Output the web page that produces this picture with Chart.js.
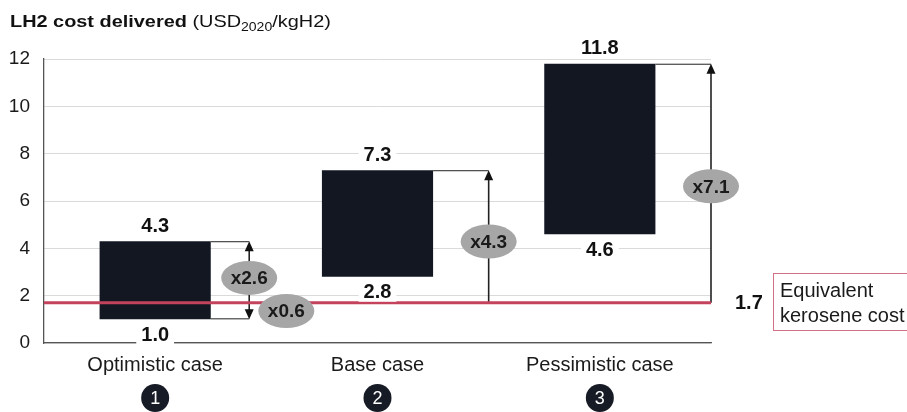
<!DOCTYPE html>
<html>
<head>
<meta charset="utf-8">
<script src="https://cdn.jsdelivr.net/npm/chart.js@4"></script>
<style>
  html, body { margin: 0; padding: 0; background: #fff; }
</style>
</head>
<body>
<canvas id="costChart" width="907" height="412"></canvas>
<script>
// data
const categories = ['Optimistic case', 'Base case', 'Pessimistic case'];
const caseNumbers = ['1', '2', '3'];
const lowCost = [1.0, 2.8, 4.6];
const highCost = [4.3, 7.3, 11.8];
const keroseneCost = 1.7;
const highMultipliers = ['x2.6', 'x4.3', 'x7.1'];
const lowMultiplier = 'x0.6';
const yTicks = [0, 2, 4, 6, 8, 10, 12];

const FONT = 'Arial, "Liberation Sans", sans-serif';
const BAR = '#121722';
const RED = '#c4435c';

function arrowHead(ctx, x, y, dir) {
  ctx.beginPath();
  ctx.moveTo(x, y);
  ctx.lineTo(x - 4.5, y - dir * 10);
  ctx.lineTo(x + 4.5, y - dir * 10);
  ctx.closePath();
  ctx.fill();
}

function bubble(ctx, cx, cy, text) {
  ctx.fillStyle = '#a6a6a6';
  ctx.beginPath();
  ctx.ellipse(cx, cy, 28, 17, 0, 0, Math.PI * 2);
  ctx.fill();
  ctx.fillStyle = '#1a1a1a';
  ctx.font = 'bold 19px ' + FONT;
  ctx.textAlign = 'center';
  ctx.textBaseline = 'middle';
  ctx.fillText(text, cx, cy + 1);
}

function valueLabel(ctx, x, y, text) {
  ctx.font = 'bold 20px ' + FONT;
  const w = ctx.measureText(text).width;
  ctx.fillStyle = '#fff';
  ctx.fillRect(x - w / 2 - 5, y - 10, w + 10, 20);
  ctx.fillStyle = '#111';
  ctx.textAlign = 'center';
  ctx.textBaseline = 'middle';
  ctx.fillText(text, x, y + 1);
}

const overlay = {
  id: 'overlay',
  afterDatasetsDraw(chart) {
    const ctx = chart.ctx;
    const xs = chart.scales.x;
    const ys = chart.scales.y;
    const area = chart.chartArea;
    const meta = chart.getDatasetMeta(0);
    const catW = (area.right - area.left) / categories.length;
    const yK = ys.getPixelForValue(keroseneCost);
    const arrowX = i => i === 0 ? meta.data[i].x + catW * 0.423 : Math.min(meta.data[i].x + catW / 2, area.right);

    ctx.save();

    // connectors and arrows
    ctx.strokeStyle = '#222';
    ctx.fillStyle = '#111';
    ctx.lineWidth = 1.4;
    categories.forEach((c, i) => {
      const bar = meta.data[i];
      const right = bar.x + bar.width / 2;
      const ax = arrowX(i);
      const yTop = ys.getPixelForValue(highCost[i]);
      ctx.lineWidth = 1;
      ctx.beginPath();
      ctx.moveTo(right, yTop + 0.5);
      ctx.lineTo(ax, yTop + 0.5);
      ctx.stroke();
      ctx.lineWidth = 1.6;
      if (i === 0) {
        const yLow = ys.getPixelForValue(lowCost[i]);
        ctx.lineWidth = 1;
        ctx.beginPath();
        ctx.moveTo(right, yLow - 0.5);
        ctx.lineTo(ax, yLow - 0.5);
        ctx.stroke();
        ctx.lineWidth = 1.6;
        ctx.beginPath();
        ctx.moveTo(ax, yTop + 4);
        ctx.lineTo(ax, yLow - 4);
        ctx.stroke();
        arrowHead(ctx, ax, yTop, -1);
        arrowHead(ctx, ax, yLow, 1);
      } else {
        ctx.beginPath();
        ctx.moveTo(ax, yTop + 4);
        ctx.lineTo(ax, yK);
        ctx.stroke();
        arrowHead(ctx, ax, yTop, -1);
      }
    });

    // kerosene reference line
    ctx.strokeStyle = RED;
    ctx.lineWidth = 2.8;
    ctx.beginPath();
    ctx.moveTo(area.left, yK);
    ctx.lineTo(area.right, yK);
    ctx.stroke();

    // multiplier bubbles
    const bubbleAt = [2.75, 4.29, 6.62];
    categories.forEach((c, i) => {
      bubble(ctx, arrowX(i), ys.getPixelForValue(bubbleAt[i]), highMultipliers[i]);
    });
    bubble(ctx, meta.data[0].x + catW * 0.59, ys.getPixelForValue(1.35), lowMultiplier);

    // value labels
    categories.forEach((c, i) => {
      const bar = meta.data[i];
      valueLabel(ctx, bar.x, ys.getPixelForValue(highCost[i]) - 16, highCost[i].toFixed(1));
      valueLabel(ctx, bar.x, ys.getPixelForValue(lowCost[i]) + 15, lowCost[i].toFixed(1));
    });

    // kerosene value and box
    ctx.fillStyle = '#111';
    ctx.font = 'bold 20px ' + FONT;
    ctx.textAlign = 'left';
    ctx.textBaseline = 'middle';
    ctx.fillText(keroseneCost.toFixed(1), 735, yK + 1);
    ctx.strokeStyle = '#d47083';
    ctx.lineWidth = 1;
    ctx.strokeRect(773.5, 273.5, 140, 57);
    ctx.fillStyle = '#1a1a1a';
    ctx.font = '20px ' + FONT;
    ctx.fillText('Equivalent', 780, 291);
    ctx.fillText('kerosene cost', 780, 316);

    // numbered circles
    categories.forEach((c, i) => {
      const cx = xs.getPixelForValue(i);
      ctx.fillStyle = '#161b26';
      ctx.beginPath();
      ctx.arc(cx, 398, 14, 0, Math.PI * 2);
      ctx.fill();
      ctx.fillStyle = '#fff';
      ctx.font = '18px ' + FONT;
      ctx.textAlign = 'center';
      ctx.fillText(caseNumbers[i], cx, 399);
    });

    // title (source text is slightly wide, so stretch it)
    ctx.translate(10, 27);
    ctx.scale(1.17, 1);
    ctx.fillStyle = '#111';
    ctx.textAlign = 'left';
    ctx.textBaseline = 'alphabetic';
    ctx.font = 'bold 17px ' + FONT;
    const t1 = 'LH2 cost delivered ';
    ctx.fillText(t1, 0, 0);
    let x = ctx.measureText(t1).width;
    ctx.font = '17px ' + FONT;
    ctx.fillText('(USD', x, 0);
    x += ctx.measureText('(USD').width;
    ctx.font = '12px ' + FONT;
    ctx.fillText('2020', x, 4);
    x += ctx.measureText('2020').width;
    ctx.font = '17px ' + FONT;
    ctx.fillText('/kgH2)', x, 0);

    ctx.restore();
  }
};

new Chart(document.getElementById('costChart'), {
  type: 'bar',
  data: {
    labels: categories,
    datasets: [{
      data: categories.map((c, i) => [lowCost[i], highCost[i]]),
      backgroundColor: BAR,
      borderWidth: 0,
      categoryPercentage: 1,
      barPercentage: 0.5
    }]
  },
  options: {
    responsive: false,
    animation: false,
    layout: { padding: { left: 0, right: 196, top: 59, bottom: 0 } },
    plugins: { legend: { display: false }, tooltip: { enabled: false } },
    scales: {
      x: {
        grid: { display: false, drawTicks: false },
        border: { color: '#555', width: 1.3 },
        ticks: { color: '#1a1a1a', font: { family: FONT, size: 20 }, padding: 10 },
        afterFit: s => { s.height = 69; }
      },
      y: {
        min: yTicks[0],
        max: yTicks[yTicks.length - 1],
        afterBuildTicks: s => { s.ticks = yTicks.map(v => ({ value: v })); },
        grid: { color: '#dadada', drawTicks: false },
        border: { color: '#555', width: 1.3 },
        ticks: { color: '#1a1a1a', font: { family: FONT, size: 19 }, padding: 14 },
        afterFit: s => { s.width = 44; }
      }
    }
  },
  plugins: [overlay]
});
</script>
</body>
</html>
